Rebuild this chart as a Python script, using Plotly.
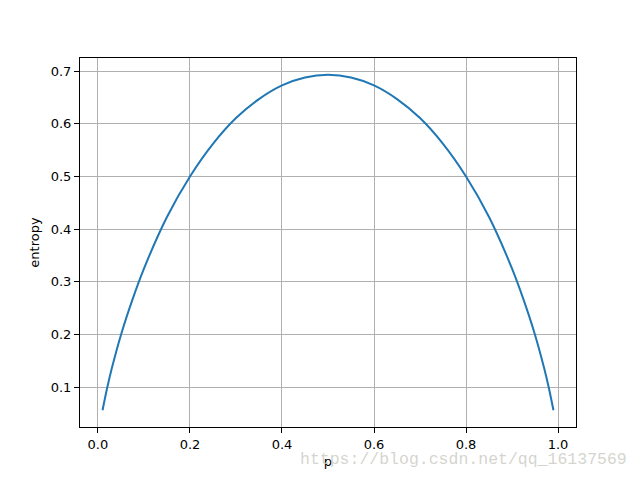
import plotly.graph_objects as go

p_values = [0.01, 0.02, 0.03, 0.05, 0.075, 0.10, 0.15, 0.20, 0.25, 0.30, 0.35, 0.40, 0.45, 0.50,
            0.55, 0.60, 0.65, 0.70, 0.75, 0.80, 0.85, 0.90, 0.925, 0.95, 0.97, 0.98, 0.99]
entropy_values = [0.056, 0.098, 0.135, 0.199, 0.266, 0.325, 0.423, 0.500, 0.562, 0.611, 0.647, 0.673, 0.688, 0.693,
                  0.688, 0.673, 0.647, 0.611, 0.562, 0.500, 0.423, 0.325, 0.266, 0.199, 0.135, 0.098, 0.056]
x_ticks = [0.0, 0.2, 0.4, 0.6, 0.8, 1.0]
y_ticks = [0.1, 0.2, 0.3, 0.4, 0.5, 0.6, 0.7]

fig = go.Figure()
fig.add_trace(go.Scatter(x=p_values, y=entropy_values, mode="lines",
                         line=dict(color="#1f77b4", width=2, shape="spline", smoothing=1.0),
                         showlegend=False))

axis_common = dict(showline=True, linecolor="black", linewidth=1, mirror=True,
                   ticks="outside", ticklen=5, tickcolor="black", tickwidth=1,
                   showgrid=True, gridcolor="#b0b0b0", gridwidth=1, zeroline=False,
                   tickfont=dict(family="DejaVu Sans", size=13, color="black"))

fig.update_xaxes(range=[-0.039, 1.039], tickvals=x_ticks, ticktext=[f"{v:.1f}" for v in x_ticks],
                 title=dict(text="p", font=dict(family="DejaVu Sans", size=13, color="black"), standoff=6),
                 **axis_common)
fig.update_yaxes(range=[0.0241, 0.725], tickvals=y_ticks, ticktext=[f"{v:.1f}" for v in y_ticks],
                 title=dict(text="entropy", font=dict(family="DejaVu Sans", size=13, color="black"), standoff=8),
                 **axis_common)

fig.add_annotation(text="https://blog.csdn.net/qq_16137569", xref="paper", yref="paper",
                   x=0.773, y=-0.089, xanchor="center", yanchor="middle", showarrow=False,
                   font=dict(family="Liberation Mono", size=16.5, color="rgba(205,205,198,0.85)"))

fig.update_layout(width=640, height=480, paper_bgcolor="white", plot_bgcolor="white",
                  margin=dict(l=72, r=72, t=50, b=61))

fig.write_html("out.html")
